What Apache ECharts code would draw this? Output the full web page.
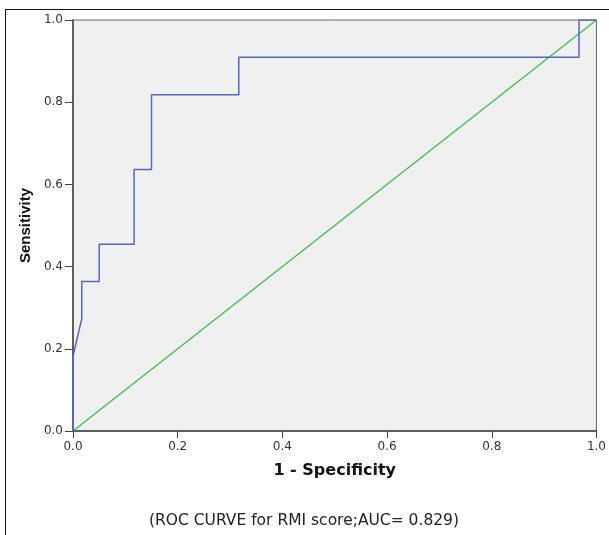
<!DOCTYPE html>
<html>
<head>
<meta charset="utf-8">
<script src="https://cdn.jsdelivr.net/npm/echarts@6/dist/echarts.min.js"></script>
<style>
  html, body { margin: 0; padding: 0; background: #fff; }
  #chart { width: 609px; height: 535px; }
</style>
</head>
<body>
<div id="chart"></div>
<script>
// ROC curve points: 1 - specificity, sensitivity
var fpr = [0, 0, 0.0167, 0.0167, 0.05, 0.05, 0.1167, 0.1167, 0.15, 0.15, 0.3167, 0.3167, 0.9667, 0.9667, 1];
var tpr = [0, 0.1818, 0.2727, 0.3636, 0.3636, 0.4545, 0.4545, 0.6364, 0.6364, 0.8182, 0.8182, 0.9091, 0.9091, 1, 1];
var refX = [0, 1];
var refY = [0, 1];
var caption = '(ROC CURVE for RMI score;AUC= 0.829)';

(function () {
  var chart = echarts.init(document.getElementById('chart'), null, { renderer: 'canvas' });
  var font = '"Liberation Sans", Arial, sans-serif';
  var wide = '"DejaVu Sans", sans-serif';
  var axisColor = '#444';

  chart.setOption({
    animation: false,
    title: {
      text: caption,
      left: 299,
      textAlign: 'center',
      top: 508,
      textStyle: { fontFamily: wide, fontSize: 15.5, fontWeight: 'normal', color: '#222' }
    },
    graphic: [
      { type: 'line', shape: { x1: 5, y1: 9.5, x2: 609, y2: 9.5 }, style: { stroke: '#111', lineWidth: 1 } },
      { type: 'line', shape: { x1: 5.5, y1: 9, x2: 5.5, y2: 535 }, style: { stroke: '#111', lineWidth: 1 } }
    ],
    grid: {
      left: 73, right: 12, top: 20, bottom: 104,
      show: true, backgroundColor: '#f0f0f0', borderColor: '#666', borderWidth: 1
    },
    xAxis: {
      type: 'value', min: 0, max: 1, interval: 0.2,
      name: '1 - Specificity', nameLocation: 'middle', nameGap: 32,
      nameTextStyle: { fontFamily: wide, fontSize: 16, fontWeight: 'bold', color: '#111' },
      axisLine: { lineStyle: { color: axisColor, width: 1.5 } },
      axisTick: { show: true, length: 7, lineStyle: { color: axisColor } },
      axisLabel: { fontFamily: wide, fontSize: 12, color: '#333', margin: 10,
        formatter: function (v) { return v.toFixed(1); } },
      splitLine: { show: false }
    },
    yAxis: {
      type: 'value', min: 0, max: 1, interval: 0.2,
      name: 'Sensitivity', nameLocation: 'middle', nameGap: 40,
      nameTextStyle: { fontFamily: font, fontSize: 15, fontWeight: 'bold', color: '#111' },
      axisLine: { show: true, lineStyle: { color: axisColor, width: 1.5 } },
      axisTick: { show: true, length: 8, lineStyle: { color: axisColor } },
      axisLabel: { fontFamily: wide, fontSize: 12, color: '#333', margin: 10,
        formatter: function (v) { return v.toFixed(1); } },
      splitLine: { show: false }
    },
    series: [
      {
        type: 'line', silent: true, symbol: 'none',
        lineStyle: { color: '#44c052', width: 1.5 },
        data: refX.map(function (x, i) { return [x, refY[i]]; })
      },
      {
        type: 'line', silent: true, symbol: 'none',
        lineStyle: { color: '#5468c0', width: 1.5 },
        data: fpr.map(function (x, i) { return [x, tpr[i]]; })
      }
    ]
  });
})();
</script>
</body>
</html>
